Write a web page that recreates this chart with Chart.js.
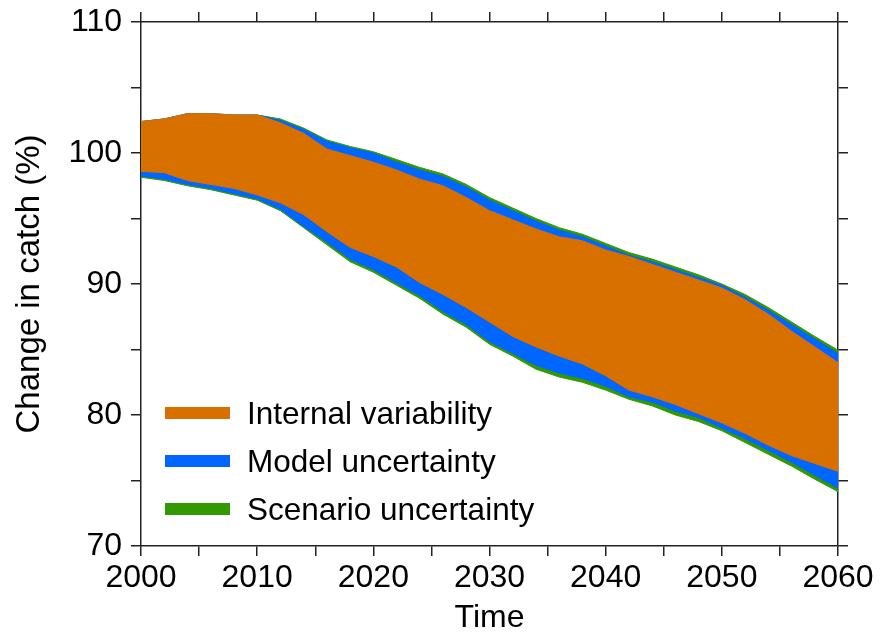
<!DOCTYPE html>
<html>
<head>
<meta charset="utf-8">
<title>Change in catch</title>
<script src="https://cdn.jsdelivr.net/npm/chart.js@4.4.1/dist/chart.umd.min.js"></script>
<style>
    html, body { margin: 0; padding: 0; background: #fff; }
    #wrap { position: relative; width: 880px; height: 639px; }
    #legend {
        position: absolute; left: 165px; top: 389px;
        font-family: "Liberation Sans", Arial, sans-serif; font-size: 31.5px; color: #000;
    }
    .item { display: flex; align-items: center; height: 48px; }
    .swatch { width: 65px; height: 12px; margin-right: 17px; }
</style>
</head>
<body>
<div id="wrap">
    <canvas id="catchChart" width="880" height="639"></canvas>
    <div id="legend"></div>
</div>
<script>

const years = [2000, 2002, 2004, 2006, 2008, 2010, 2012, 2014, 2016, 2018, 2020,
    2022, 2024, 2026, 2028, 2030, 2032, 2034, 2036, 2038, 2040,
    2042, 2044, 2046, 2048, 2050, 2052, 2054, 2056, 2058, 2060];

// outer edges (scenario uncertainty)
const scenarioUpper = [102.4, 102.6, 103.0, 103.0, 102.9, 102.9, 102.6, 101.9, 101.0, 100.5, 100.1,
    99.5, 98.9, 98.4, 97.6, 96.6, 95.8, 95.0, 94.3, 93.8, 93.1,
    92.4, 91.9, 91.3, 90.7, 90.0, 89.2, 88.2, 87.1, 86.0, 84.95];
const scenarioLower = [98.15, 97.9, 97.5, 97.2, 96.8, 96.4, 95.6, 94.3, 93.0, 91.7, 90.9,
    89.9, 88.9, 87.7, 86.7, 85.4, 84.5, 83.5, 82.9, 82.5, 81.9,
    81.2, 80.7, 80.0, 79.5, 78.8, 77.9, 77.0, 76.1, 75.1, 74.15];

// model uncertainty
const modelUpper = [102.4, 102.6, 103.0, 103.0, 102.9, 102.9, 102.5, 101.8, 100.9, 100.4, 100.0,
    99.3, 98.7, 98.2, 97.4, 96.4, 95.6, 94.8, 94.1, 93.6, 92.9,
    92.2, 91.7, 91.1, 90.5, 89.9, 89.0, 88.0, 86.9, 85.8, 84.7];
const modelLower = [98.25, 98.0, 97.6, 97.3, 96.9, 96.5, 95.7, 94.4, 93.2, 91.9, 91.1,
    90.1, 89.1, 87.9, 86.9, 85.6, 84.7, 83.8, 83.2, 82.8, 82.2,
    81.4, 81.0, 80.3, 79.8, 79.0, 78.2, 77.3, 76.4, 75.4, 74.4];

// internal variability
const internalUpper = [102.4, 102.6, 103.0, 103.0, 102.9, 102.9, 102.3, 101.5, 100.3, 99.8, 99.3,
    98.7, 98.0, 97.5, 96.6, 95.6, 94.9, 94.2, 93.6, 93.3, 92.6,
    92.1, 91.5, 90.9, 90.3, 89.7, 88.8, 87.7, 86.4, 85.2, 84.0];
const internalLower = [98.6, 98.5, 97.9, 97.6, 97.3, 96.8, 96.2, 95.3, 94.0, 92.8, 92.1,
    91.3, 90.1, 89.2, 88.2, 87.1, 86.0, 85.2, 84.5, 83.9, 83.0,
    81.9, 81.4, 80.8, 80.1, 79.4, 78.6, 77.7, 76.9, 76.3, 75.7];

const xTicks = [2000, 2060, 5];
const yTicks = [70, 110, 5];

const COLORS = {
    internal: "#D87000",
    model: "#0066FF",
    scenario: "#339900"
};

const LABELS = {
    internal: "Internal variability",
    model: "Model uncertainty",
    scenario: "Scenario uncertainty"
};

const FONT = "'Liberation Sans', Arial, sans-serif";

function points(values) {
    return years.map((year, i) => ({ x: year, y: values[i] }));
}

function edge(values, color, fill) {
    return {
        data: points(values),
        borderColor: color,
        backgroundColor: color,
        borderWidth: 1,
        pointRadius: 0,
        tension: 0,
        fill: fill
    };
}

// first dataset is drawn on top, so the inner band goes first
const datasets = [
    edge(internalUpper, COLORS.internal, "+1"),
    edge(internalLower, COLORS.internal, false),
    edge(modelUpper, COLORS.model, "+1"),
    edge(modelLower, COLORS.model, false),
    edge(scenarioUpper, COLORS.scenario, "+1"),
    edge(scenarioLower, COLORS.scenario, false)
];

const frameGrid = {
    drawOnChartArea: false,
    drawTicks: true,
    tickLength: 10,
    color: "#222",
    lineWidth: 1.5
};

const frameBorder = {
    display: true,
    color: "#222",
    width: 1.5
};

function axis(position, range, size, labels, pad, extra) {
    return Object.assign({
        type: "linear",
        position: position,
        min: range[0],
        max: range[1],
        grid: frameGrid,
        border: frameBorder,
        ticks: {
            stepSize: range[2],
            autoSkip: false,
            maxRotation: 0,
            padding: pad,
            color: "#000",
            font: { family: FONT, size: 32 },
            callback: v => (labels && v % 10 === 0) ? String(v) : ""
        },
        afterFit: scale => {
            if (scale.isHorizontal()) scale.height = size;
            else scale.width = size;
            // box is fixed by hand, no extra room for label overhang
            scale.paddingTop = 0;
            scale.paddingBottom = 0;
            scale.paddingLeft = 0;
            scale.paddingRight = 0;
        }
    }, extra || {});
}

new Chart(document.getElementById("catchChart"), {
    type: "line",
    data: { datasets },
    options: {
        responsive: false,
        animation: false,
        layout: { padding: 0 },
        plugins: {
            legend: { display: false },
            tooltip: { enabled: false }
        },
        scales: {
            x: axis("bottom", xTicks, 93, true, 3, {
                title: {
                    display: true, text: "Time", color: "#000",
                    font: { family: FONT, size: 32 },
                    padding: { top: 0, bottom: 2 }
                }
            }),
            x2: axis("top", xTicks, 22, false, 3),
            y: axis("left", yTicks, 141, true, 9, {
                title: {
                    display: true, text: "Change in catch (%)", color: "#000",
                    font: { family: FONT, size: 33 },
                    padding: { top: 10, bottom: 0 }
                }
            }),
            y2: axis("right", yTicks, 42, false, 3)
        }
    }
});

// legend inside the plot, lower left
const legend = document.getElementById("legend");
["internal", "model", "scenario"].forEach(key => {
    const row = document.createElement("div");
    row.className = "item";
    const swatch = document.createElement("span");
    swatch.className = "swatch";
    swatch.style.background = COLORS[key];
    const text = document.createElement("span");
    text.textContent = LABELS[key];
    row.appendChild(swatch);
    row.appendChild(text);
    legend.appendChild(row);
});

</script>
</body>
</html>
